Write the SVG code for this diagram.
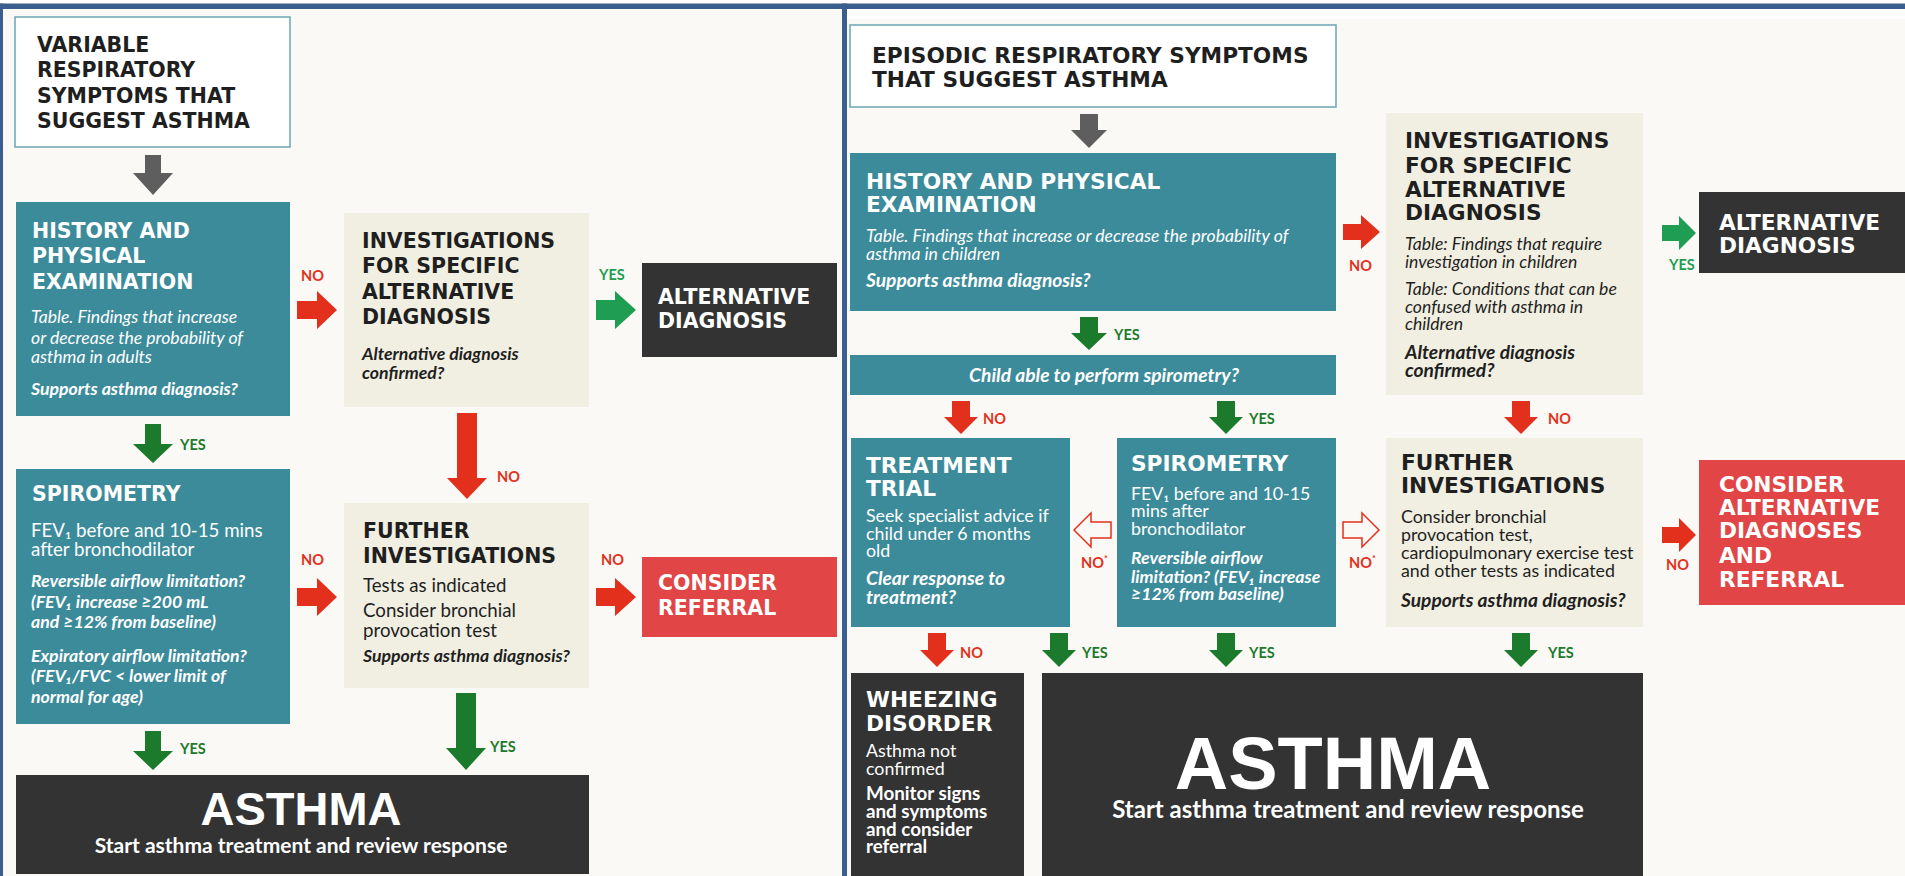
<svg xmlns="http://www.w3.org/2000/svg" width="1905" height="876" viewBox="0 0 1905 876">
<style>
.bg{fill:#faf9f5}
.teal{fill:#3c8b9b}
.beige{fill:#f1efe1}
.dark{fill:#333333}
.redbox{fill:#e24545}
.start{fill:#ffffff;stroke:#6aa7b2;stroke-width:1.5}
.h{font-family:"DejaVu Sans","Liberation Sans",sans-serif;font-weight:bold;font-size:20.5px}
.hr{font-family:"DejaVu Sans","Liberation Sans",sans-serif;font-weight:bold;font-size:21.7px}
.w{fill:#ffffff}
.k{fill:#1f1f1f}
.t{font-family:Lato,"Liberation Sans",sans-serif;font-size:18.7px}
.ts{font-family:Lato,"Liberation Sans",sans-serif;font-size:17.8px}
.it{font-family:Lato,"Liberation Sans",sans-serif;font-style:italic;font-size:17.6px}
.si{font-family:Lato,"Liberation Sans",sans-serif;font-style:italic;font-weight:bold;font-size:17.7px}
.sir{font-family:Lato,"Liberation Sans",sans-serif;font-style:italic;font-weight:bold;font-size:19.2px}
.bt{font-family:Lato,"Liberation Sans",sans-serif;font-weight:bold;font-size:18.8px}
.big{font-family:"Liberation Sans",Arial,sans-serif;font-weight:bold;fill:#ffffff;text-anchor:middle}
.sub{font-family:Lato,"Liberation Sans",sans-serif;font-weight:bold;fill:#ffffff;text-anchor:middle}
.lab{font-family:Lato,"Liberation Sans",sans-serif;font-weight:bold;font-size:14.5px}
.ay{fill:#1b7a2c}
.ayb{fill:#1f9d52}
.an{fill:#e2301c}
.ag{fill:#5e5e5e}
.ah{fill:none;stroke:#e2301c;stroke-width:1.5}
.ly{fill:#1b7a2c}
.lyb{fill:#1f9d52}
.ln{fill:#e2301c}
.frame{fill:#3a5f8f}
</style>
<rect x="0" y="0" width="1905" height="876" fill="#ffffff"/>
<rect class="bg" x="0" y="9" width="842" height="867"/>
<rect class="bg" x="847" y="19" width="1058" height="857"/>
<rect class="frame" x="0" y="3.5" width="1905" height="5.5"/>
<rect class="frame" x="0" y="3.5" width="3" height="872.5"/>
<rect class="frame" x="842" y="3.5" width="5" height="872.5"/>

<!-- LEFT PANEL -->
<g id="l-start">
<rect class="start" x="15" y="17" width="275" height="130"/>
<text class="h k"><tspan x="37" y="52">VARIABLE</tspan><tspan x="37" y="77">RESPIRATORY</tspan><tspan x="37" y="103">SYMPTOMS THAT</tspan><tspan x="37" y="128">SUGGEST ASTHMA</tspan></text>
</g>
<g id="l-history">
<rect class="teal" x="16" y="202" width="274" height="214"/>
<text class="h w"><tspan x="32" y="238">HISTORY AND</tspan><tspan x="32" y="263">PHYSICAL</tspan><tspan x="32" y="289">EXAMINATION</tspan></text>
<text class="it w"><tspan x="31" y="323">Table. Findings that increase</tspan><tspan x="31" y="344">or decrease the probability of</tspan><tspan x="31" y="363">asthma in adults</tspan></text>
<text class="si w" x="31" y="395">Supports asthma diagnosis?</text>
</g>
<g id="l-spirometry">
<rect class="teal" x="16" y="469" width="274" height="255"/>
<text class="h w" x="32" y="501">SPIROMETRY</text>
<text class="t w"><tspan x="31" y="537">FEV₁ before and 10-15 mins</tspan><tspan x="31" y="556">after bronchodilator</tspan></text>
<text class="si w"><tspan x="31" y="587">Reversible airflow limitation?</tspan><tspan x="31" y="608">(FEV₁ increase ≥200 mL</tspan><tspan x="31" y="628">and ≥12% from baseline)</tspan><tspan x="31" y="662">Expiratory airflow limitation?</tspan><tspan x="31" y="682">(FEV₁/FVC &lt; lower limit of</tspan><tspan x="31" y="703">normal for age)</tspan></text>
</g>
<g id="l-investigations">
<rect class="beige" x="344" y="213" width="245" height="194"/>
<text class="h k"><tspan x="362" y="248">INVESTIGATIONS</tspan><tspan x="362" y="273">FOR SPECIFIC</tspan><tspan x="362" y="299">ALTERNATIVE</tspan><tspan x="362" y="324">DIAGNOSIS</tspan></text>
<text class="si k"><tspan x="362" y="360">Alternative diagnosis</tspan><tspan x="362" y="379">confirmed?</tspan></text>
</g>
<g id="l-alternative">
<rect class="dark" x="642" y="263" width="195" height="94"/>
<text class="h w"><tspan x="658" y="304">ALTERNATIVE</tspan><tspan x="658" y="328">DIAGNOSIS</tspan></text>
</g>
<g id="l-further">
<rect class="beige" x="344" y="503" width="245" height="185"/>
<text class="h k"><tspan x="363" y="538">FURTHER</tspan><tspan x="363" y="563">INVESTIGATIONS</tspan></text>
<text class="t k"><tspan x="363" y="592">Tests as indicated</tspan><tspan x="363" y="617">Consider bronchial</tspan><tspan x="363" y="637">provocation test</tspan></text>
<text class="si k" x="363" y="662">Supports asthma diagnosis?</text>
</g>
<g id="l-referral">
<rect class="redbox" x="642" y="557" width="195" height="80"/>
<text class="h w"><tspan x="658" y="590">CONSIDER</tspan><tspan x="658" y="615">REFERRAL</tspan></text>
</g>
<g id="l-asthma">
<rect class="dark" x="16" y="775" width="573" height="99"/>
<text class="big" x="301" y="825" font-size="47">ASTHMA</text>
<text class="sub" x="301" y="853" font-size="21">Start asthma treatment and review response</text>
</g>

<!-- RIGHT PANEL -->
<g id="r-start">
<rect class="start" x="850" y="25" width="486" height="82"/>
<text class="hr k" font-size="21.5"><tspan x="872" y="63">EPISODIC RESPIRATORY SYMPTOMS</tspan><tspan x="872" y="87">THAT SUGGEST ASTHMA</tspan></text>
</g>
<g id="r-history">
<rect class="teal" x="850" y="153" width="486" height="158"/>
<text class="hr w" font-size="21.5"><tspan x="866" y="189">HISTORY AND PHYSICAL</tspan><tspan x="866" y="212">EXAMINATION</tspan></text>
<text class="it w"><tspan x="866" y="242">Table. Findings that increase or decrease the probability of</tspan><tspan x="866" y="260">asthma in children</tspan></text>
<text class="sir w" x="866" y="287">Supports asthma diagnosis?</text>
</g>
<g id="r-child">
<rect class="teal" x="850" y="355" width="486" height="40"/>
<text class="sir w" x="1104" y="382" text-anchor="middle" font-size="21.5">Child able to perform spirometry?</text>
</g>
<g id="r-investigations">
<rect class="beige" x="1386" y="113" width="257" height="282"/>
<text class="hr k"><tspan x="1405" y="148">INVESTIGATIONS</tspan><tspan x="1405" y="173">FOR SPECIFIC</tspan><tspan x="1405" y="197">ALTERNATIVE</tspan><tspan x="1405" y="220">DIAGNOSIS</tspan></text>
<text class="it k" font-size="18"><tspan x="1405" y="250">Table: Findings that require</tspan><tspan x="1405" y="268">investigation  in children</tspan><tspan x="1405" y="295">Table: Conditions that can be</tspan><tspan x="1405" y="313">confused with asthma in</tspan><tspan x="1405" y="330">children</tspan></text>
<text class="sir k"><tspan x="1405" y="359">Alternative diagnosis</tspan><tspan x="1405" y="377">confirmed?</tspan></text>
</g>
<g id="r-alternative">
<rect class="dark" x="1699" y="192" width="206" height="81"/>
<text class="hr w" font-size="22.5"><tspan x="1719" y="230">ALTERNATIVE</tspan><tspan x="1719" y="253">DIAGNOSIS</tspan></text>
</g>
<g id="r-treatment">
<rect class="teal" x="851" y="438" width="219" height="189"/>
<text class="hr w" font-size="22"><tspan x="866" y="473">TREATMENT</tspan><tspan x="866" y="496">TRIAL</tspan></text>
<text class="ts w"><tspan x="866" y="522">Seek specialist advice if</tspan><tspan x="866" y="540">child under 6 months</tspan><tspan x="866" y="557">old</tspan></text>
<text class="sir w"><tspan x="866" y="585">Clear response to</tspan><tspan x="866" y="604">treatment?</tspan></text>
</g>
<g id="r-spirometry">
<rect class="teal" x="1117" y="438" width="219" height="189"/>
<text class="hr w" x="1131" y="471">SPIROMETRY</text>
<text class="ts w"><tspan x="1131" y="500">FEV₁ before and 10-15</tspan><tspan x="1131" y="517">mins after</tspan><tspan x="1131" y="535">bronchodilator</tspan></text>
<text class="si w" font-size="17.8"><tspan x="1131" y="564">Reversible airflow</tspan><tspan x="1131" y="583">limitation? (FEV₁ increase</tspan><tspan x="1131" y="600">≥12% from baseline)</tspan></text>
</g>
<g id="r-further">
<rect class="beige" x="1386" y="438" width="257" height="189"/>
<text class="hr k"><tspan x="1401" y="470">FURTHER</tspan><tspan x="1401" y="493">INVESTIGATIONS</tspan></text>
<text class="ts k" font-size="18"><tspan x="1401" y="523">Consider bronchial</tspan><tspan x="1401" y="541">provocation test,</tspan><tspan x="1401" y="559">cardiopulmonary exercise test</tspan><tspan x="1401" y="577">and other tests as indicated</tspan></text>
<text class="sir k" x="1401" y="607">Supports asthma diagnosis?</text>
</g>
<g id="r-consider">
<rect class="redbox" x="1699" y="460" width="206" height="145"/>
<text class="hr w" font-size="22.5"><tspan x="1719" y="492">CONSIDER</tspan><tspan x="1719" y="515">ALTERNATIVE</tspan><tspan x="1719" y="538">DIAGNOSES</tspan><tspan x="1719" y="563">AND</tspan><tspan x="1719" y="587">REFERRAL</tspan></text>
</g>
<g id="r-wheezing">
<rect class="dark" x="851" y="673" width="173" height="203"/>
<text class="hr w" font-size="22"><tspan x="866" y="707">WHEEZING</tspan><tspan x="866" y="731">DISORDER</tspan></text>
<text class="ts w"><tspan x="866" y="757">Asthma not</tspan><tspan x="866" y="775">confirmed</tspan></text>
<text class="bt w"><tspan x="866" y="800">Monitor signs</tspan><tspan x="866" y="818">and symptoms</tspan><tspan x="866" y="836">and consider</tspan><tspan x="866" y="853">referral</tspan></text>
</g>
<g id="r-asthma">
<rect class="dark" x="1042" y="673" width="601" height="203"/>
<text class="big" x="1333" y="789" font-size="74">ASTHMA</text>
<text class="sub" x="1348" y="818" font-size="24">Start asthma treatment and review response</text>
</g>

<!-- CONNECTORS -->
<g id="connectors">
<path class="ag" d="M145 155H161V173H173L153 195L133 173H145Z"/>
<path class="an" d="M297 301H317V291L337 310L317 329V319H297Z"/>
<text class="lab ln" x="301" y="281">NO</text>
<path class="ayb" d="M596 300H615V291L636 310L615 329V320H596Z"/>
<text class="lab lyb" x="599" y="280">YES</text>
<path class="ay" d="M145 424H161V444H173L153 463L133 444H145Z"/>
<text class="lab ly" x="180" y="450">YES</text>
<path class="an" d="M457 413H477V478H487L467 499L447 478H457Z"/>
<text class="lab ln" x="497" y="482">NO</text>
<path class="an" d="M297 588H317V578L337 597L317 616V606H297Z"/>
<text class="lab ln" x="301" y="565">NO</text>
<path class="an" d="M596 588H615V578L636 597L615 616V606H596Z"/>
<text class="lab ln" x="601" y="565">NO</text>
<path class="ay" d="M145 731H161V751H173L153 770L133 751H145Z"/>
<text class="lab ly" x="180" y="754">YES</text>
<path class="ay" d="M456 693H476V748H486L466 770L446 748H456Z"/>
<text class="lab ly" x="490" y="752">YES</text>

<path class="ag" d="M1080 114H1098V130H1107L1089 148L1071 130H1080Z"/>
<path class="an" d="M1343 224H1361V215L1380 232L1361 249V240H1343Z"/>
<text class="lab ln" x="1349" y="271">NO</text>
<path class="ayb" d="M1662 225H1679V216L1696 233L1679 250V241H1662Z"/>
<text class="lab lyb" x="1669" y="270">YES</text>
<path class="ay" d="M1080 317H1098V333H1107L1089 350L1071 333H1080Z"/>
<text class="lab ly" x="1114" y="340">YES</text>
<path class="an" d="M952 401H970V417H978L961 434L944 417H952Z"/>
<text class="lab ln" x="983" y="424">NO</text>
<path class="ay" d="M1217 401H1235V417H1243L1226 434L1209 417H1217Z"/>
<text class="lab ly" x="1249" y="424">YES</text>
<path class="an" d="M1512 401H1530V417H1538L1521 434L1504 417H1512Z"/>
<text class="lab ln" x="1548" y="424">NO</text>
<path class="ah" d="M1074 530L1091 513V522H1111V538H1091V547Z"/>
<text class="lab ln" x="1081" y="568">NO<tspan font-size="9" dy="-6">*</tspan></text>
<path class="ah" d="M1379 530L1362 513V522H1343V538H1362V547Z"/>
<text class="lab ln" x="1349" y="568">NO<tspan font-size="9" dy="-6">*</tspan></text>
<path class="an" d="M1662 527H1679V518L1696 535L1679 552V543H1662Z"/>
<text class="lab ln" x="1666" y="570">NO</text>
<path class="an" d="M928 633H946V650H954L937 667L920 650H928Z"/>
<text class="lab ln" x="960" y="658">NO</text>
<path class="ay" d="M1050 633H1068V650H1076L1059 667L1042 650H1050Z"/>
<text class="lab ly" x="1082" y="658">YES</text>
<path class="ay" d="M1217 633H1235V650H1243L1226 667L1209 650H1217Z"/>
<text class="lab ly" x="1249" y="658">YES</text>
<path class="ay" d="M1512 633H1530V650H1538L1521 667L1504 650H1512Z"/>
<text class="lab ly" x="1548" y="658">YES</text>
</g>
</svg>
